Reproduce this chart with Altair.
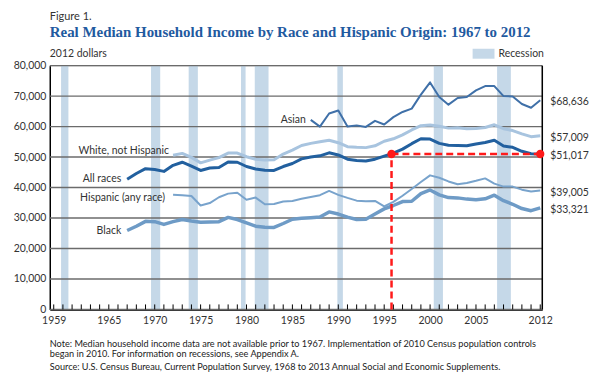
import altair as alt
import pandas as pd

# ---------------- data ----------------
years_all = list(range(1967, 2013))
all_races = [42700, 44600, 46200, 45900, 45300, 47300, 48300, 47000, 45600, 46400,
             46600, 48400, 48300, 46900, 46100, 45700, 45600, 46900, 47900, 49400,
             50000, 50400, 51400, 50700, 49300, 48900, 48700, 49300, 50300, 51300,
             52600, 54400, 56000, 55900, 54500, 53900, 53800, 53700, 54300, 54800,
             55500, 53600, 53200, 51900, 51100, 51017]
black = [25900, 27300, 28900, 28800, 27900, 28800, 29500, 29000, 28600, 28700,
         28800, 30200, 29500, 28400, 27300, 27000, 26900, 28200, 29600, 29900,
         30100, 30300, 32000, 31300, 30300, 29500, 29600, 31300, 33000, 34100,
         35400, 35500, 38000, 39200, 37600, 36700, 36600, 36200, 36000, 36300,
         37500, 35700, 34500, 33100, 32400, 33321]

years_72 = list(range(1972, 2013))
white_nh = [50600, 51200, 49900, 48100, 49000, 49800, 51300, 51300, 50100, 49300,
            49000, 49100, 51000, 52300, 53800, 54500, 55000, 55500, 54700, 53400,
            53200, 53100, 53700, 55200, 56000, 57300, 58900, 60300, 60500, 60100,
            59500, 59600, 59300, 59400, 59700, 60600, 59300, 58700, 57600, 56700,
            57009]
hispanic = [37600, 37500, 37200, 34100, 34900, 36800, 38000, 38300, 36000, 36700,
            34500, 34600, 35400, 35600, 36300, 36900, 37500, 38900, 37600, 36600,
            35700, 35500, 35600, 33800, 35300, 37300, 39500, 41800, 44000, 43200,
            42000, 41100, 41500, 42200, 43000, 41300, 40300, 40300, 39300, 38700,
            39005]

years_87 = list(range(1987, 2013))
asian = [62200, 60000, 64300, 65300, 60000, 60400, 59900, 61900, 60700, 63100,
         64800, 65900, 70500, 74500, 69700, 67200, 69400, 69700, 71900, 73300,
         73300, 70000, 69900, 67400, 66200, 68636]

rec_start = [1959.8, 1969.6, 1973.7, 1979.4, 1980.9, 1989.9, 2000.4, 2007.3]
rec_end = [1960.6, 1970.6, 1974.7, 1979.9, 1982.4, 1990.5, 2001.4, 2008.8]

x_tick_labels = [1959, 1965, 1970, 1975, 1980, 1985, 1990, 1995, 2000, 2005, 2012]
tick_years = list(range(1959, 2013))
y_labels = [0, 10000, 20000, 30000, 40000, 50000, 60000, 70000, 80000]

end_values = [68636, 57009, 51017, 39005, 33321]
end_texts = ["$68,636", "$57,009", "$51,017", "$39,005", "$33,321"]

ref_year = 1995.8
ref_value = 51017
last_year = 2012

title_text = "Real Median Household Income by Race and Hispanic Origin: 1967 to 2012"
note_lines = [
    "Note: Median household income data are not available prior to 1967. Implementation of 2010 Census population controls",
    "began in 2010. For information on recessions, see Appendix A.",
    "Source: U.S. Census Bureau, Current Population Survey, 1968 to 2013 Annual Social and Economic Supplements.",
]

# ---------------- layout ----------------
W, H = 495, 245
FONT = "Lato"
TXT = "#333333"
xscale = alt.Scale(domain=[1958.57, 2012.22], nice=False, zero=False)
yscale = alt.Scale(domain=[0, 80000], nice=False, zero=False)

X_AXIS = alt.Axis(values=x_tick_labels, labelExpr="format(datum.value, 'd')", ticks=False, grid=False,
                  domainColor="black", domainWidth=1.5, labelFontSize=10.5,
                  labelFont=FONT, labelColor=TXT, labelPadding=6, title=None,
                  labelFlush=False)
Y_AXIS = alt.Axis(values=y_labels, labelExpr="format(datum.value, ',')", ticks=False, grid=False,
                  domainColor="black", domainWidth=1.5, labelFontSize=10.5,
                  labelFont=FONT, labelColor=TXT, labelPadding=4, title=None)


def X(field):
    return alt.X(field, scale=xscale, axis=X_AXIS, title=None)


def Y(field):
    return alt.Y(field, scale=yscale, axis=Y_AXIS, title=None)


rec_df = pd.DataFrame({"start": rec_start, "end": rec_end})
bands = alt.Chart(rec_df).mark_rect(color="#c5d8e8").encode(
    x=X("start:Q"), x2="end:Q", y=alt.value(0), y2=alt.value(H))

grid = alt.Chart(pd.DataFrame({"v": y_labels})).mark_rule(color="#6b6b6b", strokeWidth=1.4).encode(
    y=Y("v:Q"), x=alt.value(0), x2=alt.value(W))

right_border = alt.Chart(pd.DataFrame({"a": [0]})).mark_rule(color="black", strokeWidth=1.5).encode(
    x=alt.value(W), y=alt.value(0), y2=alt.value(H))

ticks = alt.Chart(pd.DataFrame({"yr": tick_years})).mark_rule(color="black", strokeWidth=1).encode(
    x=X("yr:Q"), y=alt.value(H), y2=alt.value(H - 5))


def line(years, vals, color, width):
    df = pd.DataFrame({"year": years, "value": vals})
    return alt.Chart(df).mark_line(color=color, strokeWidth=width, strokeJoin="round").encode(
        x=X("year:Q"), y=Y("value:Q"))


lines = [
    line(years_72, white_nh, "#a8c4df", 3),
    line(years_72, hispanic, "#78a3cc", 2),
    line(years_all, black, "#6e9bc6", 3.5),
    line(years_87, asian, "#3f70a8", 2),
    line(years_all, all_races, "#22609f", 3),
]


def series_label(text, year, val, dx, dy):
    df = pd.DataFrame({"year": [year], "value": [val], "t": [text]})
    return alt.Chart(df).mark_text(align="right", baseline="middle", dx=dx, dy=dy,
                                   font=FONT, fontSize=10.5, color=TXT).encode(
        x=X("year:Q"), y=Y("value:Q"), text="t:N")


labels = [
    series_label("Asian", years_87[0], asian[0], -5, 0),
    series_label("White, not Hispanic", years_72[0], white_nh[0], -4, -4),
    series_label("All races", years_all[0], all_races[0], -6, 0),
    series_label("Hispanic (any race)", years_72[0], hispanic[0], -8, 3),
    series_label("Black", years_all[0], black[0], -6, 1),
]

end_df = pd.DataFrame({"year": [last_year] * len(end_values), "value": end_values, "t": end_texts})
end_labels = alt.Chart(end_df).mark_text(align="left", baseline="middle", dx=10, dy=2,
                                          font=FONT, fontSize=10.5, color=TXT).encode(
    x=X("year:Q"), y=Y("value:Q"), text="t:N")

# red annotation
RED = "#ff1a1a"
vdf = pd.DataFrame({"year": [ref_year], "lo": [0], "hi": [ref_value]})
red_v = alt.Chart(vdf).mark_rule(color=RED, strokeWidth=2.5, strokeDash=[7, 4]).encode(
    x=X("year:Q"), y=Y("lo:Q"), y2="hi:Q")
hdf = pd.DataFrame({"a": [ref_year], "b": [last_year], "v": [ref_value]})
red_h = alt.Chart(hdf).mark_rule(color=RED, strokeWidth=2.5, strokeDash=[7, 4]).encode(
    x=X("a:Q"), x2="b:Q", y=Y("v:Q"))
pdf = pd.DataFrame({"year": [ref_year, last_year], "v": [ref_value, ref_value]})
red_p = alt.Chart(pdf).mark_circle(color=RED, opacity=1, size=70).encode(
    x=X("year:Q"), y=Y("v:Q"))


# header / legend / notes (page furniture)
def ptext(text, x, y, size, color=TXT, weight="normal", font=FONT, align="left"):
    return alt.Chart(pd.DataFrame({"t": [text]})).mark_text(
        align=align, baseline="middle", fontSize=size, color=color, fontWeight=weight, font=font
    ).encode(x=alt.value(x), y=alt.value(y), text="t:N")


fig_label = ptext("Figure 1.", 0, -49, 11)
title = ptext(title_text, 0, -34, 15, color="#1f5aa0", weight="bold", font="Liberation Serif")
units = ptext("2012 dollars", 0, -12, 10.5)
leg_rect = alt.Chart(pd.DataFrame({"a": [0]})).mark_rect(color="#c5d8e8").encode(
    x=alt.value(425), x2=alt.value(447), y=alt.value(-17), y2=alt.value(-7))
leg_text = ptext("Recession", 451, -12, 10.5)
notes = [ptext(t, 0, y, 9.2, color="#222222") for t, y in zip(note_lines, [280, 290, 303])]

chart = alt.layer(
    bands, grid, *lines, ticks, right_border, red_v, red_h, red_p,
    *labels, end_labels, fig_label, title, units, leg_rect, leg_text, *notes
).properties(
    width=W, height=H,
    padding={"left": 42, "top": 57, "right": 50, "bottom": 70},
    autosize=alt.AutoSizeParams(type="none"),
).configure_view(stroke=None).configure(background="white")

chart.save("out.html", embed_options={"renderer": "svg", "actions": False})
